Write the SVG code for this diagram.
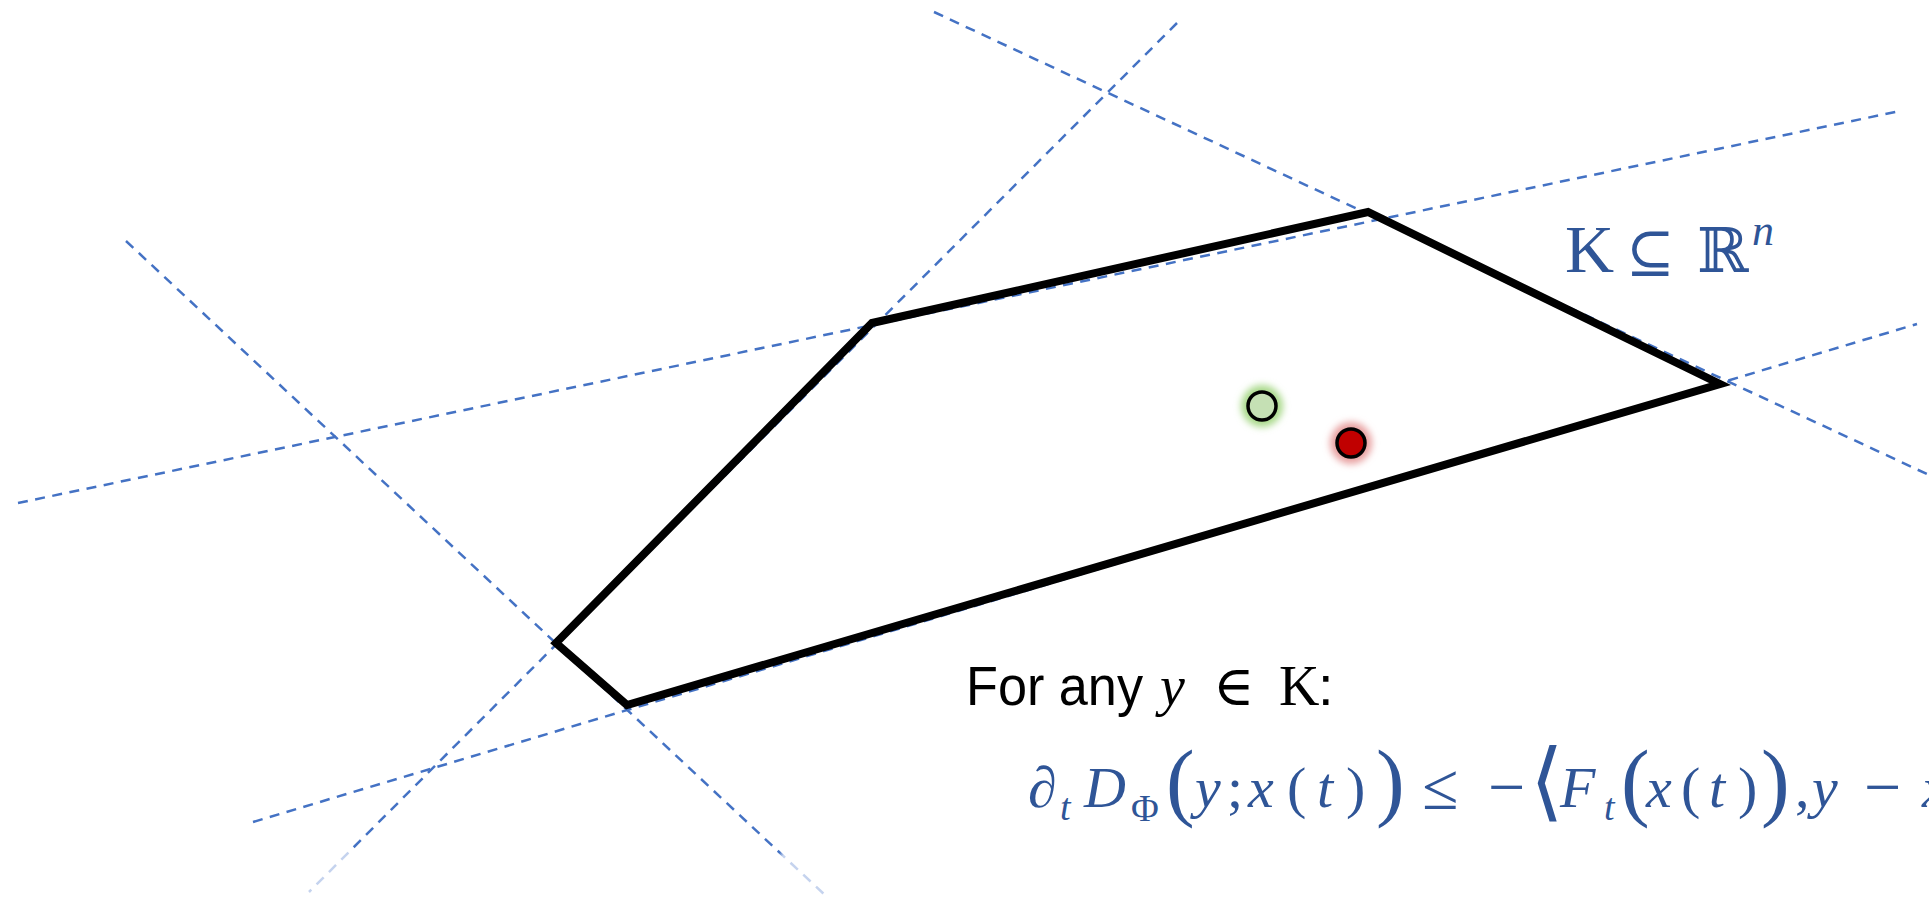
<svg xmlns="http://www.w3.org/2000/svg" width="1929" height="897" viewBox="0 0 1929 897">
<style>
.dash{fill:none;stroke:#4472C4;stroke-width:2.5;stroke-dasharray:10 7.5}
.edge{fill:none;stroke:#000;stroke-width:8;stroke-linejoin:miter}
.m{font-family:"Liberation Serif","DejaVu Serif",serif;fill:#2F5597}
.it{font-style:italic}
.b{font-size:58px}
.s{font-size:38px}
.big{font-size:86px}
.op{font-size:66px}
.lbl{font-family:"Liberation Serif","DejaVu Serif",serif;fill:#000}
</style>
<defs>
<linearGradient id="fade2" gradientUnits="userSpaceOnUse" x1="1177" y1="23" x2="309" y2="892">
<stop offset="0" stop-color="#4472C4"/><stop offset="0.95" stop-color="#4472C4"/><stop offset="0.955" stop-color="#C5D3EE"/><stop offset="1" stop-color="#C5D3EE"/>
</linearGradient>
<linearGradient id="fade4" gradientUnits="userSpaceOnUse" x1="126" y1="241" x2="825" y2="895">
<stop offset="0" stop-color="#4472C4"/><stop offset="0.935" stop-color="#4472C4"/><stop offset="0.94" stop-color="#C5D3EE"/><stop offset="1" stop-color="#C5D3EE"/>
</linearGradient>
<filter id="glow" x="-100%" y="-100%" width="300%" height="300%"><feGaussianBlur stdDeviation="3.5"/></filter>
</defs>
<rect width="1929" height="897" fill="#fff"/>
<g id="connectors">
<line class="dash" x1="934" y1="12" x2="1929" y2="475"/>
<line class="dash" x1="1177" y1="23" x2="309" y2="892" style="stroke:url(#fade2)"/>
<line class="dash" x1="18" y1="503" x2="1900" y2="111"/>
<line class="dash" x1="126" y1="241" x2="825" y2="895" style="stroke:url(#fade4)"/>
<line class="dash" x1="253" y1="822" x2="1917" y2="324"/>
</g>
<g id="polytope">
<path class="edge" d="M872,323 L1368,212 L1720,384 L627,705 L556,643 Z"/>
</g>
<g id="point-green">
<circle cx="1262" cy="406" r="21" fill="#A9D98A" filter="url(#glow)"/>
<circle cx="1262" cy="406" r="14" fill="#C5E0B4" stroke="#000" stroke-width="3.5"/>
</g>
<g id="point-red">
<circle cx="1351" cy="443" r="21" fill="#E8A0A0" filter="url(#glow)"/>
<circle cx="1351" cy="443" r="14" fill="#C00000" stroke="#000" stroke-width="3.5"/>
</g>
<g id="label-K">
<text class="m" y="272" font-size="68"><tspan x="1565">K</tspan><tspan x="1626" font-size="58">⊆</tspan><tspan x="1697" font-size="62">ℝ</tspan><tspan x="1752" y="245" font-size="44" class="it">n</tspan></text>
</g>
<g id="label-forany">
<text x="966" y="705" font-family="'Liberation Sans Narrow','Liberation Sans',sans-serif" font-size="56" textLength="177" lengthAdjust="spacingAndGlyphs" fill="#000">For any</text>
<text class="lbl" y="705" font-size="56"><tspan x="1160" font-style="italic">y</tspan><tspan x="1213">∈</tspan><tspan x="1279">K</tspan><tspan x="1318" font-family="'Liberation Sans Narrow','Liberation Sans',sans-serif">:</tspan></text>
</g>
<g id="formula">
<text class="m b">
<tspan x="1028" y="807">∂</tspan>
<tspan x="1060" y="820" class="s it">t</tspan>
<tspan x="1084" y="807" class="it">D</tspan>
<tspan x="1131" y="821" class="s">Φ</tspan>
<tspan x="1166" y="810" class="big">(</tspan>
<tspan x="1195" y="807" class="it">y</tspan>
<tspan x="1227" y="807">;</tspan>
<tspan x="1248" y="807" class="it">x</tspan>
<tspan x="1287" y="807">(</tspan>
<tspan x="1317" y="807" class="it">t</tspan>
<tspan x="1346" y="807">)</tspan>
<tspan x="1376" y="810" class="big">)</tspan>
<tspan x="1422" y="809" class="op">≤</tspan>
<tspan x="1488" y="809" class="op">−</tspan>
<tspan x="1530" y="810" class="big">⟨</tspan>
<tspan x="1560" y="807" class="it">F</tspan>
<tspan x="1604" y="820" class="s it">t</tspan>
<tspan x="1621" y="810" class="big">(</tspan>
<tspan x="1646" y="807" class="it">x</tspan>
<tspan x="1681" y="807">(</tspan>
<tspan x="1709" y="807" class="it">t</tspan>
<tspan x="1738" y="807">)</tspan>
<tspan x="1761" y="810" class="big">)</tspan>
<tspan x="1795" y="807">,</tspan>
<tspan x="1812" y="807" class="it">y</tspan>
<tspan x="1864" y="809" class="op">−</tspan>
<tspan x="1922" y="807" class="it">x</tspan>
</text>
</g>
</svg>
